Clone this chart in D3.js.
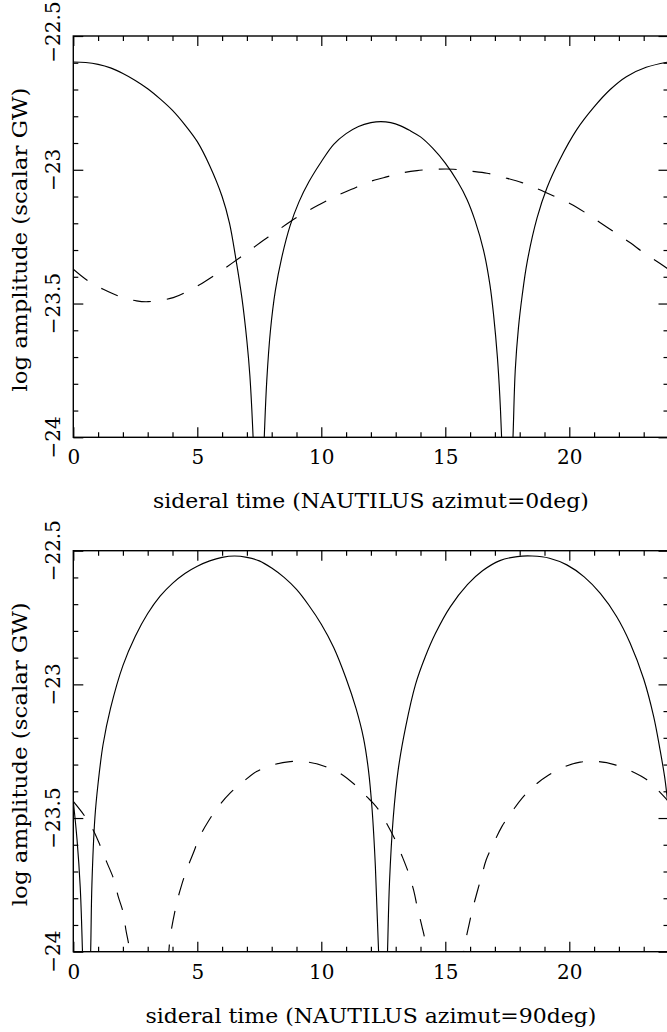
<!DOCTYPE html>
<html><head><meta charset="utf-8">
<script src="https://cdn.jsdelivr.net/npm/d3@7"></script>
<style>body{margin:0;background:#fff} svg{display:block}</style>
</head><body>
<script>
// ---- data ----
const xMajor = [0, 5, 10, 15, 20];
const yMajor = [-24, -23.5, -23, -22.5];
const yTickText = ["−24", "−23.5", "−23", "−22.5"];
const xTitles = ["sideral time (NAUTILUS azimut=0deg)", "sideral time (NAUTILUS azimut=90deg)"];
const yTitle = "log amplitude (scalar GW)";

// top panel (azimut = 0deg)
const topSolid = [
  [0,-22.597],[0.5,-22.599],[1,-22.606],[1.5,-22.619],[2,-22.64],[2.5,-22.666],[3,-22.697],
  [3.5,-22.735],[4,-22.778],[4.5,-22.832],[5,-22.895],[5.5,-22.985],[6,-23.1],[6.3,-23.2],
  [6.55,-23.33],[6.8,-23.48],[7,-23.64],[7.12,-23.77],[7.25,-24.0],[7.47,-24.6],[7.70,-24.0],
  [7.80,-23.79],[7.95,-23.6],[8.15,-23.45],[8.4,-23.33],[8.74,-23.21],[9.1,-23.12],[9.5,-23.045],
  [10,-22.97],[10.5,-22.905],[11,-22.865],[11.5,-22.838],[12,-22.824],[12.4,-22.82],[12.8,-22.824],
  [13.2,-22.836],[13.6,-22.855],[14,-22.877],[14.5,-22.92],[15,-22.975],[15.5,-23.045],
  [15.87,-23.11],[16.2,-23.19],[16.54,-23.3],[16.8,-23.43],[16.95,-23.545],[17.1,-23.7],
  [17.2,-23.85],[17.27,-24.0],[17.5,-24.6],[17.73,-24.0],[17.82,-23.75],[17.95,-23.59],
  [18.1,-23.47],[18.3,-23.345],[18.7,-23.18],[19.1,-23.067],[19.6,-22.965],[20.3,-22.85],
  [21,-22.765],[21.65,-22.7],[22.3,-22.652],[23.1,-22.617],[24,-22.597]
];
const topDashed = [
  [0,-23.372],[0.6,-23.416],[1.21,-23.447],[1.88,-23.474],[2.55,-23.49],[3.02,-23.493],
  [4.03,-23.478],[4.64,-23.453],[5.2,-23.424],[5.79,-23.389],[6.39,-23.35],[6.96,-23.312],
  [7.53,-23.273],[8.12,-23.235],[8.74,-23.194],[9.34,-23.16],[9.95,-23.129],[10.55,-23.1],
  [11.22,-23.073],[11.9,-23.046],[12.51,-23.03],[13.18,-23.013],[13.86,-23.003],[14.66,-22.998],
  [15.33,-22.998],[16.0,-23.005],[16.68,-23.013],[17.42,-23.03],[18.09,-23.048],[18.76,-23.073],
  [19.37,-23.098],[20.04,-23.127],[20.64,-23.16],[21.25,-23.198],[21.85,-23.235],[22.46,-23.273],
  [23.0,-23.31],[23.6,-23.347],[24,-23.372]
];

// bottom panel (azimut = 90deg)
const bottomSolid = [
  [0,-23.438],[0.15,-23.58],[0.28,-23.76],[0.37,-24.0],[0.54,-24.6],[0.70,-24.0],[0.75,-23.75],
  [0.87,-23.5],[1,-23.37],[1.2,-23.225],[1.5,-23.09],[2,-22.93],[2.5,-22.82],[3,-22.735],
  [3.5,-22.67],[4,-22.622],[4.5,-22.585],[5,-22.558],[5.5,-22.538],[6,-22.525],[6.5,-22.52],
  [7,-22.525],[7.5,-22.538],[8,-22.565],[8.5,-22.6],[9,-22.645],[9.5,-22.705],[10,-22.775],
  [10.5,-22.862],[11,-22.978],[11.4,-23.09],[11.7,-23.2],[11.9,-23.32],[12.05,-23.47],
  [12.18,-23.68],[12.31,-24.0],[12.49,-24.6],[12.67,-24.0],[12.75,-23.74],[12.9,-23.5],
  [13.1,-23.32],[13.4,-23.16],[13.8,-23.0],[14.2,-22.895],[14.6,-22.81],[15.2,-22.71],
  [15.9,-22.626],[16.5,-22.575],[17.2,-22.537],[17.9,-22.522],[18.5,-22.52],[19.2,-22.528],
  [19.9,-22.553],[20.6,-22.598],[21.25,-22.66],[21.9,-22.745],[22.45,-22.845],[23,-22.98],
  [23.4,-23.12],[23.65,-23.24],[23.85,-23.35],[24,-23.47]
];
const bottomDashed = [
  [0,-23.438],[0.47,-23.494],[0.83,-23.55],[1.1,-23.607],[1.34,-23.663],[1.64,-23.731],
  [1.81,-23.793],[2.02,-23.856],[2.12,-23.918],[2.26,-23.987],[3.07,-24.6],[3.85,-24.0],
  [3.9,-23.949],[4.17,-23.818],[4.37,-23.75],[4.57,-23.694],[4.84,-23.631],[5.1,-23.569],
  [5.44,-23.513],[5.85,-23.457],[6.32,-23.407],[6.85,-23.364],[7.39,-23.326],[8.06,-23.301],
  [8.74,-23.289],[9.48,-23.291],[10.15,-23.307],[10.75,-23.332],[11.36,-23.376],[11.83,-23.42],
  [12.1,-23.445],[12.31,-23.469],[12.67,-23.526],[12.98,-23.582],[13.29,-23.65],[13.52,-23.706],
  [13.72,-23.769],[13.88,-23.837],[14.06,-23.906],[14.19,-23.962],[14.99,-24.6],[15.75,-24.0],
  [15.8,-23.968],[15.94,-23.906],[16.11,-23.837],[16.48,-23.712],[16.65,-23.656],[16.95,-23.594],
  [17.28,-23.532],[17.69,-23.476],[18.09,-23.426],[18.63,-23.376],[19.17,-23.339],[19.84,-23.307],
  [20.44,-23.291],[21.18,-23.289],[21.85,-23.301],[22.53,-23.326],[23.13,-23.357],[23.67,-23.405],
  [23.94,-23.432],[24,-23.438]
];

// ---- drawing ----
const W = 667, H = 1032;
const FONT = "'DejaVu Serif', 'Liberation Serif', serif";
const svg = d3.select("body").append("svg").attr("width", W).attr("height", H);

const x = d3.scaleLinear().domain([0, 24]).range([73.3, 668.5]);
const xMinor = d3.range(0, 25, 1).filter(v => v % 5 !== 0);
const yMinor = d3.range(-24, -22.45, 0.1).map(v => +v.toFixed(1)).filter(v => Math.abs(v * 2 - Math.round(v * 2)) > 1e-6);

const panels = [
  {top: 36, bottom: 437.3, solid: topSolid, dashed: topDashed, title: xTitles[0], tlen: 436, topLabelShift: -4},
  {top: 550.7, bottom: 951.7, solid: bottomSolid, dashed: bottomDashed, title: xTitles[1], tlen: 451, topLabelShift: 0}
];

panels.forEach((p, i) => {
  const y = d3.scaleLinear().domain([-24, -22.5]).range([p.bottom, p.top]);
  const g = svg.append("g");
  const clipId = "clip" + i;
  svg.append("clipPath").attr("id", clipId).append("rect")
    .attr("x", x(0)).attr("y", p.top).attr("width", x(24) - x(0)).attr("height", p.bottom - p.top);

  const line = d3.line().x(d => x(d[0])).y(d => y(d[1])).curve(d3.curveCatmullRom.alpha(0.5));
  const curves = g.append("g").attr("clip-path", `url(#${clipId})`);
  curves.append("path").datum(p.solid).attr("d", line)
    .attr("fill", "none").attr("stroke", "#000").attr("stroke-width", 1.15);
  curves.append("path").datum(p.dashed).attr("d", line)
    .attr("fill", "none").attr("stroke", "#000").attr("stroke-width", 1.15)
    .attr("stroke-dasharray", "18,16");

  // axes: ticks on all four sides, pointing inward
  const mk = (axis, tr) => {
    const a = g.append("g").attr("transform", tr).call(axis);
    a.select(".domain").remove();
    a.selectAll("line").attr("stroke", "#000").attr("stroke-width", 1.2);
    return a;
  };
  const bMaj = mk(d3.axisBottom(x).tickValues(xMajor).tickSize(-10).tickPadding(13).tickSizeOuter(0),
     `translate(0,${p.bottom})`);
  bMaj.selectAll("text").attr("font-family", FONT).attr("font-size", 20).attr("fill", "#000");
  mk(d3.axisBottom(x).tickValues(xMinor).tickSize(-5).tickFormat(""), `translate(0,${p.bottom})`);
  mk(d3.axisTop(x).tickValues(xMajor).tickSize(-10).tickFormat(""), `translate(0,${p.top})`);
  mk(d3.axisTop(x).tickValues(xMinor).tickSize(-5).tickFormat(""), `translate(0,${p.top})`);
  mk(d3.axisLeft(y).tickValues(yMajor).tickSize(-10).tickFormat(""), `translate(${x(0)},0)`);
  mk(d3.axisLeft(y).tickValues(yMinor).tickSize(-5).tickFormat(""), `translate(${x(0)},0)`);
  mk(d3.axisRight(y).tickValues(yMajor).tickSize(-10).tickFormat(""), `translate(${x(24)},0)`);
  mk(d3.axisRight(y).tickValues(yMinor).tickSize(-5).tickFormat(""), `translate(${x(24)},0)`);

  // frame
  g.append("rect").attr("x", x(0)).attr("y", p.top)
    .attr("width", x(24) - x(0)).attr("height", p.bottom - p.top)
    .attr("fill", "none").attr("stroke", "#000").attr("stroke-width", 1.4);

  // rotated y tick labels
  yMajor.forEach((v, k) => {
    const cy = y(v) + (k === yMajor.length - 1 ? p.topLabelShift : 0);
    g.append("text").attr("transform", `translate(60,${cy}) rotate(-90)`)
      .attr("text-anchor", "middle").attr("font-family", FONT).attr("font-size", 20)
      .text(yTickText[k]);
  });

  // axis titles
  g.append("text").attr("x", (x(0) + x(24)) / 2).attr("y", p.bottom + 71)
    .attr("text-anchor", "middle").attr("font-family", FONT).attr("font-size", 20)
    .attr("textLength", p.tlen).attr("lengthAdjust", "spacingAndGlyphs")
    .text(p.title);
  g.append("text").attr("transform", `translate(27,${(p.top + p.bottom) / 2 + 3}) rotate(-90)`)
    .attr("text-anchor", "middle").attr("font-family", FONT).attr("font-size", 20)
    .attr("textLength", 304).attr("lengthAdjust", "spacingAndGlyphs")
    .text(yTitle);
});
</script>
</body></html>
